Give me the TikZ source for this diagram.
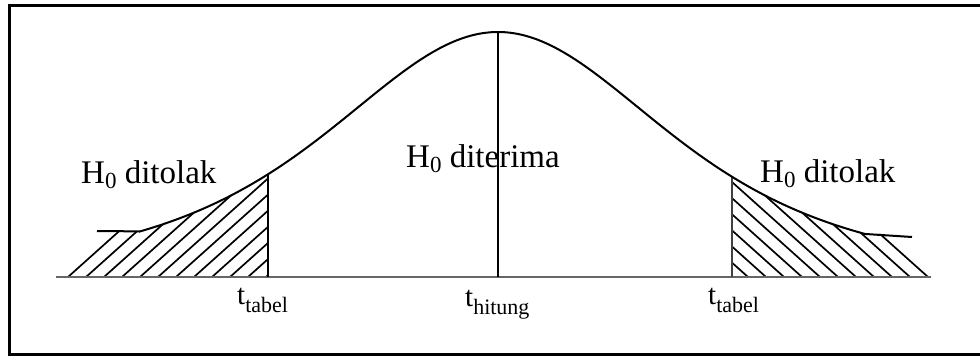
\documentclass[tikz,border=0pt]{standalone}
\usepackage{fontspec}
\setmainfont{Liberation Serif}
\newcommand{\lblfont}{\fontsize{33}{38}\selectfont}
\newcommand{\tfont}{\fontsize{29}{34}\selectfont}
\newcommand{\hsub}[1]{\raisebox{-5pt}{\fontsize{23}{23}\selectfont #1}}
\newcommand{\tsub}[1]{\raisebox{-8pt}{\fontsize{22}{22}\selectfont #1}}
\tikzset{
  frameline/.style={line width=3pt, black},
  curveline/.style={line width=2pt, black},
  axisline/.style={line width=2.6pt, black!60},
  vline/.style={line width=2pt, black},
  hatchline/.style={line width=1.7pt, black},
  lbl/.style={anchor=base west, inner sep=0pt, font=\lblfont},
  tlbl/.style={anchor=base west, inner sep=0pt, font=\tfont},
}
\begin{document}
\begin{tikzpicture}[x=1pt,y=-1pt]
\useasboundingbox (0,0) rectangle (980,356);
% frame (right edge cut off)
\draw[frameline] (982,5.5) -- (9,5.5) -- (9,354.5) -- (982,354.5);

% key points
\coordinate (peak) at (498,32);
\coordinate (mid) at (498,277);
\coordinate (ltop) at (268,{277-245/((1+((268-498)/180)^2/3)^2)});
\coordinate (lbot) at (268,277);
\coordinate (rtop) at (732,{277-245/((1+((732-498)/180)^2/3)^2)});
\coordinate (rbot) at (732,277);
\coordinate (axl) at (56,277);
\coordinate (axr) at (931,277);
\coordinate (lflat) at (97,231);
\coordinate (rflat) at (912,237);

% left hatch
\begin{scope}
\clip (65,278) -- (117,231) -- (140,231.4)
  -- plot[domain=140:268, samples=60] (\x,{277-245/((1+((\x-498)/180)^2/3)^2)})
  -- (lbot) -- cycle;
\foreach \i in {0,...,12}
  \draw[hatchline] (68+18*\i,277) -- ++(125,-112);
\end{scope}

% right hatch
\begin{scope}
\clip (rbot) -- plot[domain=732:865, samples=60] (\x,{277-245/((1+((\x-498)/180)^2/3)^2)})
  -- (883,234) -- (931,278) -- cycle;
\foreach \i in {0,...,12}
  \draw[hatchline] (928-18*\i,277) -- ++(-125,-112);
\end{scope}

% axis
\draw[axisline] (axl) -- (axr);

% vertical lines
\draw[vline] (ltop) -- (lbot);
\draw[vline, black!75] (rtop) -- (rbot);
\draw[vline] (peak) -- (mid);

% curve
\draw[curveline] (lflat) -- (140,231.4)
  -- plot[domain=140:865, samples=300] (\x,{277-245/((1+((\x-498)/180)^2/3)^2)})
  -- (rflat);

% labels
\node[lbl] (l1) at (81,183) {H\hsub{0} ditolak};
\node[lbl] (l2) at (406,167) {H\hsub{0} diterima};
\node[lbl] (l3) at (760,182) {H\hsub{0} ditolak};
\node[tlbl] (t1) at (237,304) {t\tsub{tabel}};
\node[tlbl] (t2) at (465,306) {t\tsub{hitung}};
\node[tlbl] (t3) at (708,304) {t\tsub{tabel}};
\end{tikzpicture}
\end{document}
